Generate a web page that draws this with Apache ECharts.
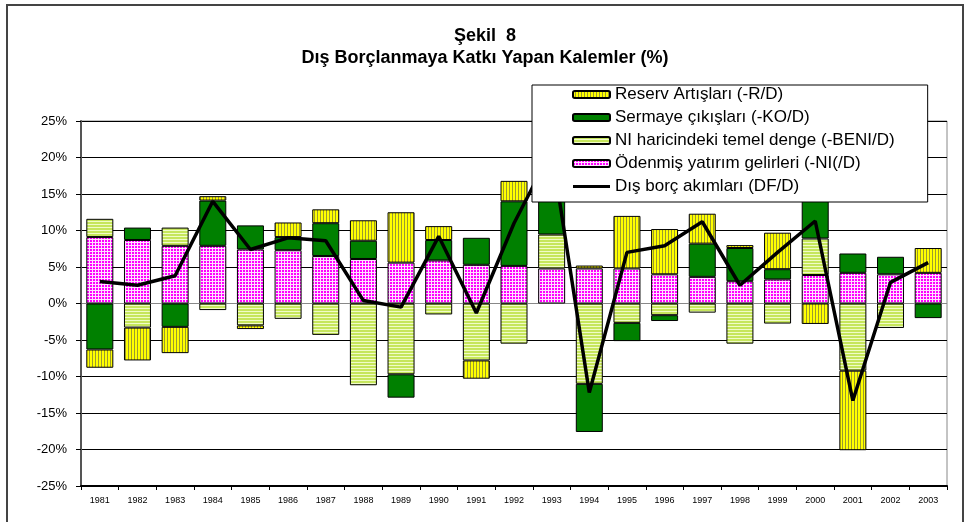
<!DOCTYPE html>
<html>
<head>
<meta charset="utf-8">
<script src="https://cdn.jsdelivr.net/npm/echarts@6/dist/echarts.min.js"></script>
<style>html,body{margin:0;padding:0;background:#fff}#c{width:970px;height:522px}</style>
</head>
<body>
<div id="c"></div>
<script>
const years = ['1981','1982','1983','1984','1985','1986','1987','1988','1989','1990','1991','1992','1993','1994','1995','1996','1997','1998','1999','2000','2001','2002','2003'];
// Ödenmiş yatırım gelirleri (-NI/D)
const niValues = [9.1,8.7,7.9,7.9,7.4,7.3,6.5,6.1,5.6,5.9,5.3,5.15,4.8,4.8,4.8,4.0,3.65,3.05,3.3,3.9,4.2,4.0,4.2];
// NI haricindeki temel denge (-BENI/D)
const beniValues = [2.5,-3.3,2.5,-0.9,-3.0,-2.1,-4.3,-11.2,-9.7,-1.5,-7.8,-5.5,4.65,-11.0,-2.65,-1.6,-1.25,-5.5,-2.75,5.0,-9.2,-3.35,null];
// Sermaye çıkışları (-KO/D)
const koValues = [-6.3,1.7,-3.2,6.2,3.3,1.8,4.5,2.5,-3.2,2.8,3.7,8.85,11.55,-6.6,-2.5,-0.8,4.55,4.55,1.4,5.2,2.65,2.4,-2.0];
// Reserv Artışları (-R/D)
const rValues = [-2.5,-4.5,-3.6,0.6,-0.5,2.0,1.9,2.8,6.9,1.9,-2.5,2.8,null,0.4,7.2,6.2,4.1,0.4,5.0,-2.8,-10.9,null,3.4];
// Dış borç akımları (DF/D)
const dfValues = [3.0,2.5,3.8,14.0,7.4,9.0,8.6,0.4,-0.5,9.2,-1.3,11.0,21.0,-12.2,7.0,7.9,11.2,2.5,7.0,11.3,-13.3,2.9,5.6];

const names = {
  r: 'Reserv Artışları (-R/D)',
  ko: 'Sermaye çıkışları (-KO/D)',
  beni: 'NI haricindeki temel denge (-BENI/D)',
  ni: 'Ödenmiş yatırım gelirleri (-NI(/D)',
  df: 'Dış borç akımları (DF/D)'
};

function pattern(w, h, draw) {
  const c = document.createElement('canvas');
  c.width = w; c.height = h;
  const g = c.getContext('2d');
  draw(g);
  return { image: c, repeat: 'repeat' };
}
const pinkPat = pattern(3, 3, g => { g.fillStyle = '#ffe0ff'; g.fillRect(0,0,3,3); g.fillStyle = '#ff00ff'; g.fillRect(0,0,2,2); });
const lgPat = pattern(4, 3, g => { g.fillStyle = '#c6e65c'; g.fillRect(0,0,4,3); g.fillStyle = '#f0fcc8'; g.fillRect(0,2,4,1); });
const yPat = pattern(3, 4, g => { g.fillStyle = '#ffff00'; g.fillRect(0,0,3,4); g.fillStyle = '#9a9a30'; g.fillRect(2,0,1,4); });

const barBase = { type: 'bar', stack: 'a', barWidth: 27 };
const splitColors = ['#000','#000','#000','#000','#000','#888','#000','#000','#000','#000','#000'];
const FONT = 'Arial, "Liberation Sans", sans-serif';

const chart = echarts.init(document.getElementById('c'), null, { renderer: 'canvas' });
chart.setOption({
  animation: false,
  backgroundColor: '#fff',
  textStyle: { fontFamily: FONT },
  title: [
    { text: 'Şekil  8', left: 'center', top: 22, textStyle: { fontSize: 18, fontWeight: 'bold', color: '#000', fontFamily: FONT } },
    { text: 'Dış Borçlanmaya Katkı Yapan Kalemler (%)', left: 'center', top: 44, textStyle: { fontSize: 18, fontWeight: 'bold', color: '#000', fontFamily: FONT } }
  ],
  graphic: [
    { type: 'rect', z: 0, shape: { x: 7, y: 5, width: 956, height: 530 }, style: { fill: 'none', stroke: '#444', lineWidth: 2 } }
  ],
  legend: {
    orient: 'vertical',
    left: 532, top: 85,
    padding: [1, 33, 7, 40],
    itemWidth: 37, itemHeight: 7, itemGap: 6,
    backgroundColor: '#fff', borderColor: '#000', borderWidth: 1,
    textStyle: { fontSize: 17, color: '#000', fontFamily: FONT },
    data: [names.r, names.ko, names.beni, names.ni, { name: names.df, icon: 'path://M0,0L40,0L40,3.2L0,3.2Z' }],
    z: 10
  },
  grid: { left: 81, right: 23, top: 121, bottom: 36, show: true, borderColor: '#888', borderWidth: 1 },
  xAxis: {
    type: 'category', data: years,
    axisLine: { onZero: false, lineStyle: { color: '#000', width: 2 } },
    axisTick: { show: true, length: 4, lineStyle: { color: '#000' } },
    axisLabel: { fontSize: 9, color: '#000', margin: 10, interval: 0 }
  },
  yAxis: {
    type: 'value', min: -25, max: 25, interval: 5,
    axisLine: { show: true, lineStyle: { color: '#555', width: 2 } },
    axisTick: { show: true, length: 5, lineStyle: { color: '#000' } },
    axisLabel: { formatter: '{value}%', fontSize: 13, color: '#000', margin: 14 },
    splitLine: { lineStyle: { color: splitColors, width: 1 } }
  },
  series: [
    Object.assign({}, barBase, { name: names.ni, data: niValues, itemStyle: { color: pinkPat, borderColor: '#000', borderWidth: 1 } }),
    Object.assign({}, barBase, { name: names.beni, data: beniValues, itemStyle: { color: lgPat, borderColor: '#000', borderWidth: 1 } }),
    Object.assign({}, barBase, { name: names.ko, data: koValues, itemStyle: { color: '#008000', borderColor: '#000', borderWidth: 1 } }),
    Object.assign({}, barBase, { name: names.r, data: rValues, itemStyle: { color: yPat, borderColor: '#000', borderWidth: 1 } }),
    { type: 'line', name: names.df, data: dfValues, symbol: 'none', showSymbol: false, z: 5,
      lineStyle: { color: '#000', width: 3.5 }, itemStyle: { color: '#000' } }
  ]
});
</script>
</body>
</html>
